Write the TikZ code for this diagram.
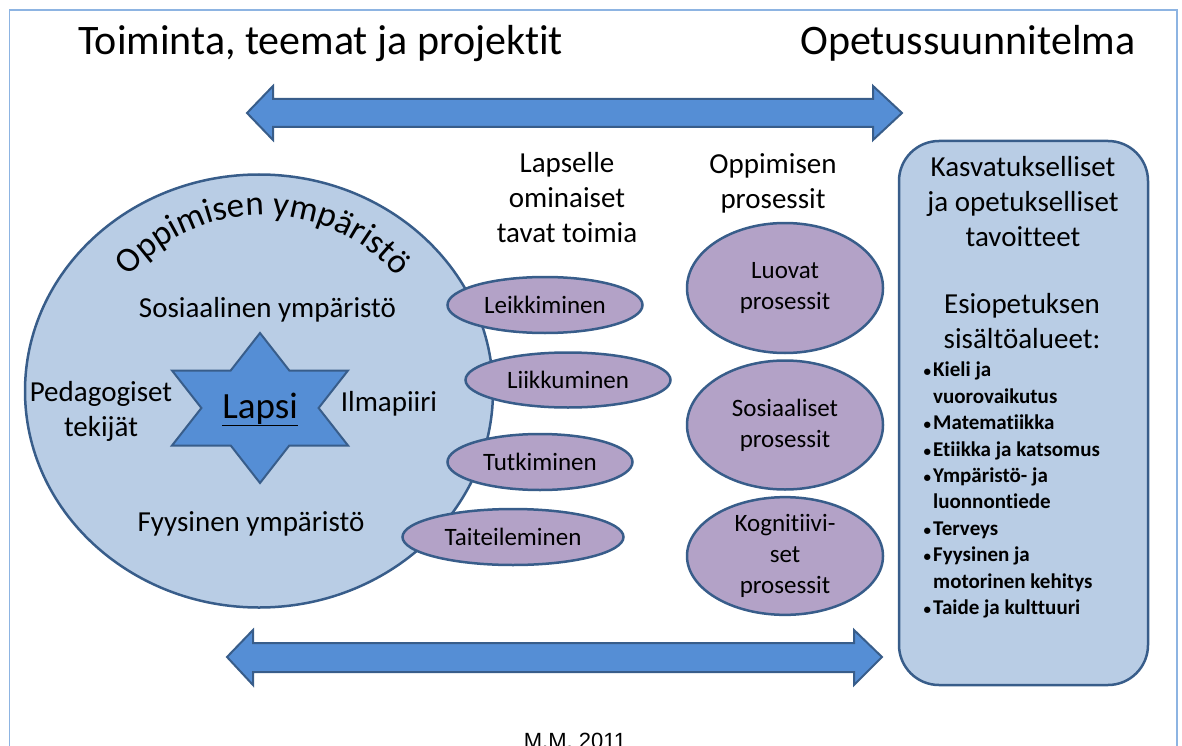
\documentclass[tikz,border=0pt]{standalone}
\usepackage{fontspec}
\setmainfont{Carlito}[RawFeature={-liga;-clig;-dlig;-rlig;-calt}]
\newfontfamily\arialfont{Liberation Sans}
\usetikzlibrary{shapes,positioning,decorations.text}
\definecolor{frameblue}{RGB}{141,180,226}
\definecolor{lineblue}{RGB}{56,93,138}
\definecolor{paleblue}{RGB}{185,205,229}
\definecolor{midblue}{RGB}{85,142,213}
\definecolor{lilac}{RGB}{179,162,199}
\newcommand{\pallo}{\llap{{\fontsize{15}{15}\selectfont •}\hspace{2pt}}}

\begin{document}
\begin{tikzpicture}[x=1pt, y=-1pt,
    txt/.style={inner sep=0pt, font=\fontsize{29}{35}\selectfont, align=center},
    title/.style={inner sep=0pt, font=\fontsize{42}{48}\selectfont, anchor=base west},
    activity/.style={ellipse, draw=lineblue, line width=2.5pt, fill=lilac, inner sep=0pt, font=\fontsize{25}{31}\selectfont},
    process/.style={activity, minimum width=196, align=center},
    bigarrow/.style={draw=lineblue, line width=2pt, fill=midblue}]
    \useasboundingbox (0,0) rectangle (1182,746);
    % frame, open at the bottom
    \draw[frameblue, line width=1.5pt] (9.5,760) -- (9.5,10) -- (1177,10) -- (1177,760);

    \node[title] (toiminta) at (78,55) {Toiminta, teemat ja projektit};
    \node[title] (ops) at (800,55) {Opetussuunnitelma};

    \draw[bigarrow] (247,113) -- (273,86) -- (273,99) -- (873,99) -- (873,86) -- (902,113)
        -- (873,140) -- (873,127) -- (273,127) -- (273,140) -- cycle;
    \draw[bigarrow] (227,657) -- (253,630) -- (253,643) -- (854,643) -- (854,630) -- (882,657)
        -- (854,685) -- (854,672) -- (253,672) -- (253,685) -- cycle;

    % learning environment
    \node (ymparisto) [ellipse, draw=lineblue, line width=2.5pt, fill=paleblue,
        minimum width=468, minimum height=433] at (259,391) {};
    \path[decorate, decoration={text along path, text align=center,
        text={|\fontsize{35}{40}\selectfont|Oppimisen ympäristö}}]
        (263,391) ++(-140:176) arc[start angle=-140, end angle=-40, radius=176];
    \node[txt, anchor=base] (sosiaalinen) at (267.5,317) {Sosiaalinen ympäristö};
    \draw[bigarrow, shift={(260,408)}] (0,-75) -- (29.3,-37.5) -- (88,-37.5) -- (58.6,0)
        -- (88,37.5) -- (29.3,37.5) -- (0,75) -- (-29.3,37.5) -- (-88,37.5) -- (-58.6,0)
        -- (-88,-37.5) -- (-29.3,-37.5) -- cycle;
    \node[inner sep=0pt, anchor=base, font=\fontsize{37}{44}\selectfont] (lapsi) at (260,418) {\underline{Lapsi}};
    \node[txt] (pedagogiset) at (101,411.5) {Pedagogiset\\tekijät};
    \node[txt, anchor=base] (ilmapiiri) at (389,411) {Ilmapiiri};
    \node[txt, anchor=base] (fyysinen) at (251,531) {Fyysinen ympäristö};

    % ways of acting
    \node[txt] (tavat) at (567,198) {Lapselle\\ominaiset\\tavat toimia};
    \node[activity, minimum width=195, minimum height=56] (leikki) at (545,305) {Leikkiminen};
    \node[activity, minimum width=205, minimum height=55] (liikku) at (568,380) {Liikkuminen};
    \node[activity, minimum width=185, minimum height=56] (tutki) at (540,462) {Tutkiminen};
    \node[activity, minimum width=221, minimum height=56] (taiteile) at (513,537) {Taiteileminen};

    % learning processes
    \node[txt] (prosessit) at (773,183.5) {Oppimisen\\prosessit};
    \node[process, minimum height=130] (luovat) at (785,288) {Luovat\\prosessit};
    \node[process, minimum height=129] (sosiaaliset) at (785,425) {Sosiaaliset\\prosessit};
    \node[process, minimum height=112] (kognitiiviset) at (785,556) {Kognitiivi-\\set\\prosessit};

    % goals
    \node (tavoitteet) [rectangle, rounded corners=40, draw=lineblue, line width=2.5pt, fill=paleblue,
        minimum width=249, minimum height=544] at (1023.5,413) {};
    \node[txt] (kasvatus) at (1023,201.5) {Kasvatukselliset\\ja opetukselliset\\tavoitteet};
    \node[txt] (esiopetus) at (1022,321.5) {Esiopetuksen\\sisältöalueet:};
    \node[inner sep=0pt, anchor=north west, align=left, font=\fontsize{21}{26.4}\bfseries\selectfont]
        (alueet) at (933,362) {\pallo Kieli ja\\vuorovaikutus\\\pallo Matematiikka\\
        \pallo Etiikka ja katsomus\\\pallo Ympäristö- ja\\luonnontiede\\
        \pallo Terveys\\\pallo Fyysinen ja\\motorinen kehitys\\
        \pallo Taide ja kulttuuri};

    \node[inner sep=0pt, anchor=base, font=\arialfont\fontsize{22}{26}\selectfont] (tekija) at (575,748) {M.M. 2011};
\end{tikzpicture}
\end{document}
